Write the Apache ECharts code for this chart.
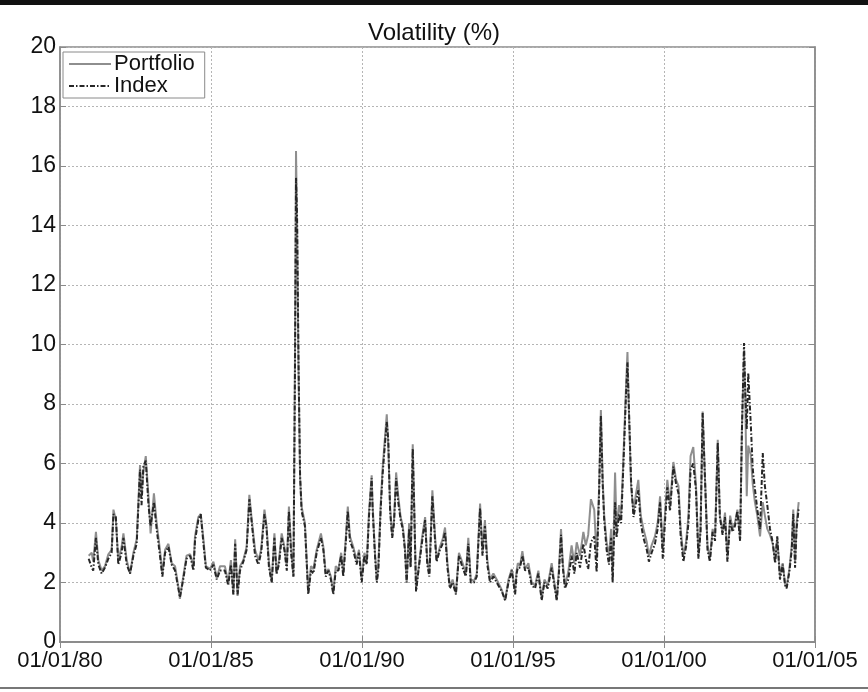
<!DOCTYPE html>
<html>
<head>
<meta charset="utf-8">
<script src="https://cdn.jsdelivr.net/npm/echarts@6/dist/echarts.min.js"></script>
<style>
  html, body { margin: 0; padding: 0; background: #fff; }
  #chart { width: 868px; height: 692px; }
</style>
</head>
<body>
<div id="chart"></div>
<script>
// decimal years of each observation
var dates = [
  1980.95, 1981.05, 1981.10, 1981.19, 1981.27, 1981.38, 1981.49, 1981.60, 1981.71, 1981.77,
  1981.85, 1981.93, 1982.04, 1982.10, 1982.21, 1982.32, 1982.43, 1982.54, 1982.65, 1982.70,
  1982.76, 1982.84, 1982.93, 1983.00, 1983.11, 1983.20, 1983.31, 1983.39, 1983.48, 1983.59,
  1983.70, 1983.81, 1983.92, 1983.97, 1984.08, 1984.19, 1984.31, 1984.42, 1984.47, 1984.58,
  1984.66, 1984.75, 1984.83, 1984.97, 1985.08, 1985.19, 1985.30,
  1985.46, 1985.57, 1985.66, 1985.74, 1985.80, 1985.88, 1985.96, 1986.07, 1986.18, 1986.27,
  1986.35, 1986.46, 1986.57, 1986.66, 1986.77, 1986.84, 1986.92, 1987.01, 1987.10, 1987.17,
  1987.25, 1987.34, 1987.43, 1987.51, 1987.58, 1987.65, 1987.73, 1987.78, 1987.815, 1987.85,
  1987.90, 1987.95, 1988.00, 1988.11, 1988.22, 1988.31, 1988.39, 1988.50, 1988.64, 1988.72,
  1988.80, 1988.89, 1988.97, 1989.05, 1989.13, 1989.22, 1989.31, 1989.38, 1989.46, 1989.53,
  1989.60, 1989.71, 1989.82, 1989.90, 1989.99, 1990.08, 1990.16, 1990.23, 1990.32, 1990.35,
  1990.43, 1990.49, 1990.54, 1990.62, 1990.68, 1990.74, 1990.82, 1990.87, 1990.93, 1991.00,
  1991.06, 1991.13, 1991.20, 1991.28, 1991.35, 1991.42, 1991.48, 1991.56, 1991.61, 1991.68,
  1991.73, 1991.79, 1991.87, 1991.98, 1992.09, 1992.16, 1992.23, 1992.33, 1992.42, 1992.47,
  1992.58, 1992.67, 1992.75, 1992.83, 1992.91, 1993.00, 1993.11, 1993.21, 1993.33, 1993.44,
  1993.52, 1993.60, 1993.71, 1993.80, 1993.91, 1993.99, 1994.07, 1994.15, 1994.24, 1994.35,
  1994.46, 1994.63, 1994.74, 1994.85, 1994.96, 1995.07,
  1995.12, 1995.16, 1995.23, 1995.31, 1995.40, 1995.51, 1995.62, 1995.73, 1995.84, 1995.95,
  1996.04, 1996.15, 1996.28, 1996.37, 1996.45, 1996.52, 1996.59, 1996.65, 1996.72, 1996.83,
  1996.94, 1997.03, 1997.11, 1997.22, 1997.33, 1997.41, 1997.49, 1997.58, 1997.69, 1997.77,
  1997.85, 1997.91, 1997.97, 1998.02, 1998.10, 1998.18, 1998.25, 1998.30, 1998.38, 1998.43,
  1998.51, 1998.58, 1998.65, 1998.73, 1998.79, 1998.84, 1998.91, 1998.99, 1999.06, 1999.15,
  1999.23, 1999.32, 1999.43, 1999.50, 1999.59, 1999.70, 1999.79, 1999.87,
  1999.96, 2000.03, 2000.11, 2000.20, 2000.31, 2000.40, 2000.48, 2000.55, 2000.64, 2000.73,
  2000.81, 2000.88, 2000.97, 2001.06, 2001.14, 2001.21, 2001.28, 2001.36, 2001.44, 2001.52,
  2001.61, 2001.69, 2001.78, 2001.85, 2001.94, 2002.02, 2002.10, 2002.19, 2002.27, 2002.35,
  2002.43, 2002.52, 2002.58, 2002.65, 2002.69, 2002.74, 2002.79, 2002.87, 2002.94, 2003.01,
  2003.09, 2003.18, 2003.27, 2003.34, 2003.42, 2003.51, 2003.60, 2003.68, 2003.75, 2003.84,
  2003.93, 2004.01, 2004.06, 2004.15, 2004.23, 2004.28, 2004.34, 2004.39, 2004.46
];

var portfolio = [
  2.9, 3.0, 2.7, 3.7, 2.75, 2.4, 2.55, 2.95, 3.1, 4.45,
  4.1, 2.75, 3.2, 3.65, 2.75, 2.3, 3.0, 3.45, 5.95, 4.9,
  5.7, 6.25, 4.9, 3.65, 5.0, 4.0, 3.1, 2.3, 3.1, 3.3,
  2.65, 2.55, 1.85, 1.45, 2.2, 2.9, 2.95, 2.55, 3.55, 4.2,
  4.3, 3.45, 2.55, 2.45, 2.7, 2.15, 2.55,
  2.55, 2.0, 2.75, 1.6, 3.45, 1.55, 2.55, 2.75, 3.2, 4.95,
  4.1, 3.1, 2.75, 3.1, 4.45, 3.9, 2.65, 2.0, 3.65, 2.3,
  2.75, 3.65, 3.2, 2.55, 4.55, 3.2, 2.2, 9.5, 16.5, 14.0,
  9.0, 5.5, 4.55, 4.0, 1.65, 2.55, 2.45, 3.1, 3.65, 3.2,
  2.3, 2.45, 2.2, 1.65, 2.55, 2.45, 3.0, 2.3, 3.45, 4.55,
  3.55, 3.2, 2.75, 3.1, 2.1, 3.0, 2.7, 4.35, 5.6, 4.65,
  3.0, 2.1, 2.55, 4.65, 5.8, 6.6, 7.65, 6.6, 4.55, 3.55,
  4.1, 5.7, 4.9, 4.2, 3.9, 3.2, 2.0, 4.0, 2.55, 6.65,
  4.55, 1.75, 2.45, 3.45, 4.2, 2.75, 2.3, 5.1, 3.55, 2.75,
  3.2, 3.45, 3.85, 2.65, 1.85, 2.1, 1.65, 3.0, 2.65, 2.3,
  3.5, 2.1, 2.05, 2.3, 4.65, 3.0, 4.1, 2.75, 2.1, 2.3,
  2.1, 1.75, 1.4, 2.1, 2.45, 1.7,
  2.4, 2.65, 2.55, 3.05, 2.45, 2.65, 2.0, 1.9, 2.4, 1.45,
  2.1, 1.9, 2.65, 2.0, 1.4, 2.45, 3.8, 2.65, 1.9, 2.35,
  3.25, 2.65, 3.35, 2.9, 3.7, 3.25, 3.6, 4.8, 4.45, 2.8,
  5.15, 7.8, 5.45, 4.25, 3.35, 2.9, 3.8, 2.1, 5.7, 3.8,
  4.6, 4.25, 6.05, 8.25, 9.75, 7.7, 5.25, 4.35, 4.9, 5.45,
  4.25, 3.8, 3.35, 2.9, 3.25, 3.55, 4.0, 4.9,
  3.1, 4.25, 5.45, 4.6, 6.05, 5.45, 5.25, 3.8, 2.9, 3.35,
  4.25, 6.25, 6.55, 5.25, 2.9, 3.8, 7.75, 5.45, 3.25, 2.8,
  3.8, 3.55, 6.8, 4.25, 3.7, 4.35, 2.8, 4.25, 3.8, 4.0,
  4.45, 3.45, 7.15, 9.75, 8.25, 4.9, 6.6, 6.3, 5.3, 4.7,
  4.25, 3.55, 4.7, 4.25, 3.8, 3.6, 3.3, 2.7, 3.5, 2.2,
  2.65, 1.95, 1.85, 2.45, 3.25, 4.45, 2.65, 4.0, 4.7
];

var index = [
  2.8, 2.5, 2.4, 3.5, 2.6, 2.3, 2.5, 2.8, 3.0, 4.3,
  4.2, 2.6, 3.0, 3.5, 2.6, 2.3, 2.9, 3.3, 5.8, 4.6,
  5.9, 6.1, 4.6, 3.9, 4.7, 3.8, 2.9, 2.2, 3.0, 3.2,
  2.6, 2.4, 1.8, 1.5, 2.1, 2.8, 2.9, 2.4, 3.4, 4.1,
  4.3, 3.3, 2.5, 2.4, 2.6, 2.1, 2.4,
  2.4, 1.9, 2.6, 1.6, 3.3, 1.6, 2.4, 2.7, 3.1, 4.8,
  4.0, 2.9, 2.6, 3.0, 4.3, 3.8, 2.5, 2.0, 3.5, 2.3,
  2.6, 3.5, 3.1, 2.4, 4.4, 3.0, 2.2, 9.0, 15.6, 14.3,
  9.2, 5.6, 4.4, 3.9, 1.6, 2.4, 2.3, 3.0, 3.5, 3.1,
  2.2, 2.4, 2.1, 1.6, 2.4, 2.4, 2.9, 2.2, 3.3, 4.4,
  3.4, 3.1, 2.6, 3.0, 2.0, 2.9, 2.6, 4.2, 5.5, 4.5,
  2.9, 2.0, 2.4, 4.5, 5.6, 6.4, 7.4, 6.8, 4.4, 3.5,
  4.0, 5.5, 4.7, 4.1, 3.8, 3.1, 2.0, 3.8, 2.5, 6.5,
  4.4, 1.7, 2.4, 3.3, 4.1, 2.6, 2.2, 4.9, 3.4, 2.7,
  3.1, 3.3, 3.7, 2.5, 1.8, 2.0, 1.6, 2.9, 2.5, 2.2,
  3.3, 2.0, 2.0, 2.2, 4.5, 2.9, 3.9, 2.6, 2.0, 2.2,
  2.0, 1.7, 1.4, 2.0, 2.4, 1.6,
  2.3, 2.5, 2.5, 2.9, 2.4, 2.5, 1.9, 1.8, 2.3, 1.4,
  2.0, 1.8, 2.5, 1.9, 1.4, 2.3, 3.6, 2.5, 1.8, 2.1,
  2.9, 2.3, 3.0, 2.5, 3.3, 2.8, 2.45, 3.35, 3.55, 2.35,
  5.0, 7.6, 5.3, 4.1, 3.1, 2.6, 3.5, 2.0, 4.7, 3.5,
  4.3, 4.0, 5.8, 8.0, 9.4, 7.8, 5.4, 4.2, 4.6, 5.1,
  4.0, 3.5, 3.1, 2.7, 3.0, 3.3, 3.8, 4.7,
  2.8, 4.0, 5.2, 4.4, 5.9, 5.3, 5.0, 3.6, 2.7, 3.2,
  4.0, 5.8, 6.0, 5.1, 2.8, 3.7, 7.7, 5.4, 3.1, 2.7,
  3.7, 3.4, 6.7, 4.2, 3.6, 4.2, 2.7, 4.1, 3.7, 3.9,
  4.4, 3.4, 7.1, 10.05, 8.4, 7.15, 9.05, 7.4, 5.8, 5.15,
  4.45, 3.8, 6.35, 5.25, 4.6, 3.8, 3.35, 2.65, 3.55, 2.1,
  2.6, 1.9, 1.8, 2.35, 3.1, 4.3, 2.5, 3.8, 4.5
];

var xTicks = [1980, 1985, 1990, 1995, 2000, 2005];

var font = '"Liberation Sans", Arial, sans-serif';

function pairs(xs, ys) {
  return xs.map(function (x, i) { return [x, ys[i]]; });
}

var chart = echarts.init(document.getElementById('chart'));

var gridLine = { show: true, lineStyle: { color: '#b5b5b5', type: [2, 2], width: 1 } };
var boxLine = { show: true, lineStyle: { color: '#8a8a8a', width: 1.5 } };
var tick = { show: true, inside: true, length: 6, lineStyle: { color: '#8a8a8a' } };

chart.setOption({
  backgroundColor: '#fff',
  animation: false,
  title: {
    text: 'Volatility (%)',
    left: 'center',
    top: 16,
    textStyle: { fontFamily: font, fontSize: 24, fontWeight: 'normal', color: '#111' }
  },
  legend: {
    left: 63,
    top: 52,
    orient: 'vertical',
    backgroundColor: '#fff',
    borderColor: '#8a8a8a',
    borderWidth: 1,
    borderRadius: 0,
    padding: [1, 10, 1, 5],
    itemGap: 0,
    itemWidth: 42,
    itemHeight: 24,
    itemStyle: { opacity: 0 },
    textStyle: { fontFamily: font, fontSize: 22, color: '#111', padding: [0, 0, 0, -2] },
    data: ['Portfolio', 'Index']
  },
  grid: { left: 60, right: 53, top: 47, bottom: 50, show: true, borderColor: '#8a8a8a', borderWidth: 1.5 },
  xAxis: [{
    type: 'value',
    min: xTicks[0],
    max: xTicks[xTicks.length - 1],
    interval: 5,
    axisLine: boxLine,
    axisTick: tick,
    splitLine: gridLine,
    axisLabel: {
      fontFamily: font, fontSize: 22, color: '#111', margin: 8,
      formatter: function (v) { return '01/01/' + String(v).slice(2); }
    }
  }, {
    type: 'value', position: 'top',
    min: xTicks[0], max: xTicks[xTicks.length - 1], interval: 5,
    axisLine: boxLine, axisTick: tick,
    axisLabel: { show: false }, splitLine: { show: false }
  }],
  yAxis: [{
    type: 'value',
    min: 0, max: 20, interval: 2,
    axisLine: boxLine,
    axisTick: tick,
    splitLine: gridLine,
    axisLabel: { fontFamily: font, fontSize: 23, color: '#111', margin: 4 }
  }, {
    type: 'value', position: 'right',
    min: 0, max: 20, interval: 2,
    axisLine: boxLine, axisTick: tick,
    axisLabel: { show: false }, splitLine: { show: false }
  }],
  series: [{
    name: 'Portfolio',
    type: 'line',
    symbol: 'none',
    data: pairs(dates, portfolio),
    lineStyle: { color: '#8e8e8e', width: 2 },
    itemStyle: { color: '#8e8e8e' },
    z: 2
  }, {
    name: 'Index',
    type: 'line',
    symbol: 'none',
    data: pairs(dates, index),
    lineStyle: { color: '#262626', width: 2, type: [5, 2, 1.5, 2] },
    itemStyle: { color: '#262626' },
    z: 3
  }],
  graphic: [
    { type: 'rect', shape: { x: 0, y: 0, width: 868, height: 5 }, style: { fill: '#111' } },
    { type: 'rect', shape: { x: 0, y: 687, width: 868, height: 2 }, style: { fill: '#777' } }
  ]
});
</script>
</body>
</html>
